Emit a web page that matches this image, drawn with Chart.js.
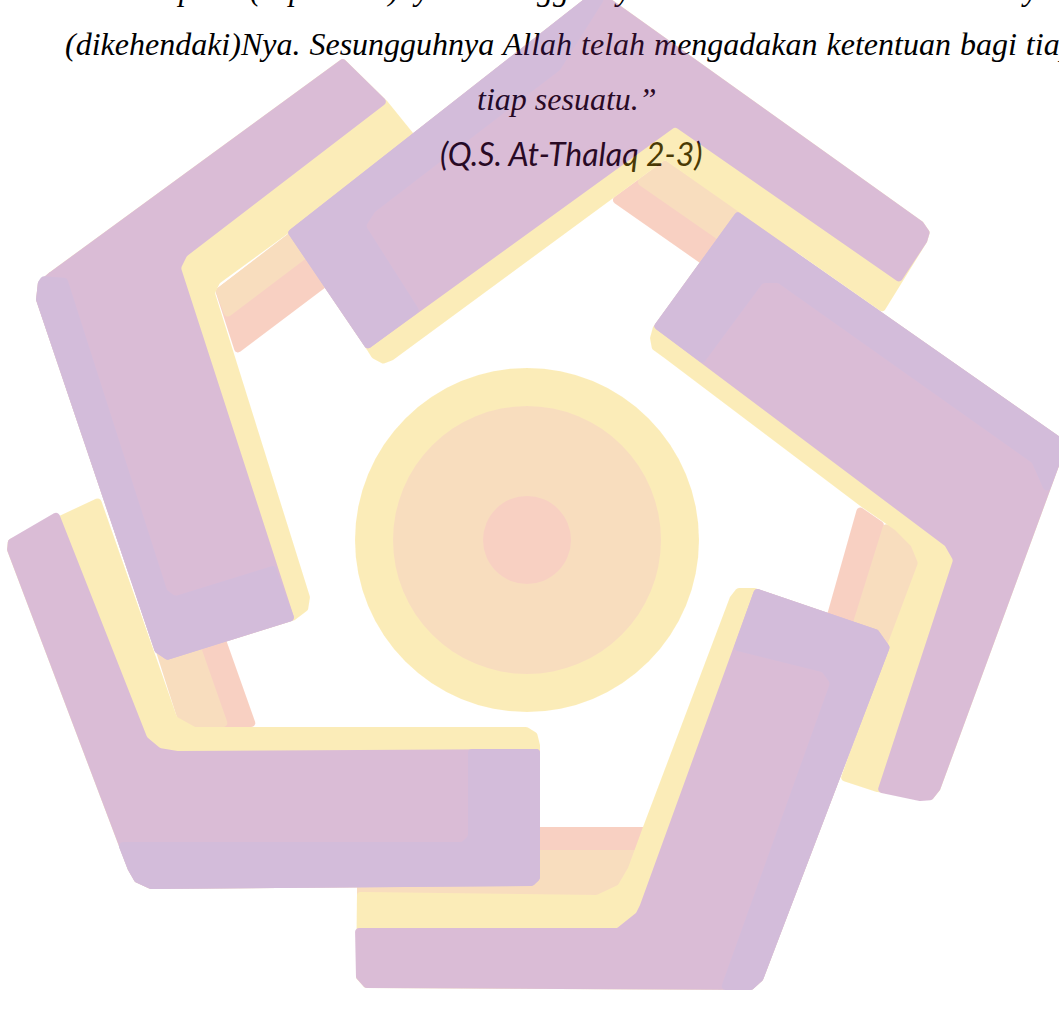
<!DOCTYPE html>
<html>
<head>
<meta charset="utf-8">
<script src="https://cdn.jsdelivr.net/npm/chart.js@4.4.1/dist/chart.umd.min.js"></script>
<style>
html, body { margin: 0; padding: 0; background: #fff; }
#page { position: relative; width: 1059px; height: 1026px; overflow: hidden; background: #fff; }
.ln { position: absolute; white-space: nowrap; line-height: 0; color: #000; }
.serif { font-family: "Liberation Serif", "Times New Roman", serif; font-style: italic; font-size: 32px; }
.just { word-spacing: 1px; }
.sans { font-family: Lato, "Open Sans", sans-serif; font-style: italic; font-size: 32px; }
#logo { position: absolute; left: 0; top: 0; opacity: 0.3; }
</style>
</head>
<body>
<div id="page">
  <div class="ln serif just" style="left:65px; top:-11px;">mencukupkan (keperluan)nya. Sesungguhnya Allah melaksanakan urusan yang</div>
  <div class="ln serif just" style="left:65px; top:44px;">(dikehendaki)Nya. Sesungguhnya Allah telah mengadakan ketentuan bagi tiap-</div>
  <div class="ln serif" style="left:477px; top:99px;">tiap sesuatu.&#8221;</div>
  <div class="ln sans" style="left:440px; top:154px;">(Q.S. At-Thalaq 2-3)</div>
  <div id="logo"><canvas id="logoChart" width="1059" height="1026"></canvas></div>
</div>
<script>
// watermark is drawn in full colour and the whole layer is faded to 30%
var purple = 'rgb(135,35,122)';
var lavender = 'rgb(112,35,135)';
var yellow = 'rgb(245,195,22)';
var orange = 'rgb(235,145,42)';
var salmon = 'rgb(235,102,55)';

// centre disc
var discCenter = [527, 540];
var discRadii = [172, 134, 44];
var discColors = [yellow, orange, salmon];

// arm A (bottom left)
var armAPink = [[120,470],[166,470],[257,727],[180,727]];
var armAOrange = [[98,470],[139,470],[229,727],[180,727]];
var armAYellow = [[8,540],[100,497],[177,717],[195,727],[527,727],[537,733],[540,745],[540,879],[533,886],[150,889],[135,882],[128,870],[7,550]];
var armAPurple = [[8,540],[58,511],[147,737],[160,748],[178,751],[540,749],[540,879],[533,886],[150,889],[135,882],[128,870],[7,550]];
var armALavender = [[117,842],[462,842],[468,836],[468,749],[540,749],[540,879],[533,886],[150,889],[135,882],[128,870]];

// arm B (top left)
var armBPink = [[236,355],[215,290],[420,135],[460,186]];
var armBOrange = [[226,319],[215,290],[420,132],[440,157]];
var armBYellow = [[343,58],[388,102],[413,133],[415,141],[220,283],[215,293],[310,597],[308,610],[295,620],[167,660],[155,652],[36,300],[38,282],[50,272]];
var armBPurple = [[343,58],[388,102],[187,256],[181,268],[295,620],[167,660],[155,652],[36,300],[38,282],[50,272]];
var armBLavender = [[42,276],[67,278],[167,590],[175,596],[275,565],[295,620],[167,660],[155,652],[36,300],[38,282]];

// arm C (top)
var armCPink = [[610,200],[665,160],[800,250],[740,291]];
var armCOrange = [[635,182],[665,160],[800,252],[760,269]];
var armCYellow = [[287,232],[597,-11],[923,222],[930,232],[927,242],[883,313],[665,160],[393,360],[383,364],[372,358],[367,350]];
var armCPurple = [[287,232],[597,-11],[923,222],[930,232],[927,242],[900,283],[675,127],[367,350]];
var armCLavender = [[287,232],[597,-11],[604,0],[560,70],[375,212],[366,226],[420,311],[367,350]];

// arm D (right)
var armDPink = [[858,505],[884,523],[880,700],[803,700]];
var armDOrange = [[884,523],[930,540],[900,700],[832,690]];
var armDYellow = [[737,211],[1060,437],[1063,455],[940,790],[932,800],[877,792],[840,780],[888,643],[918,563],[911,546],[895,530],[863,508],[663,357],[652,349],[650,338],[653,327]];
var armDPurple = [[737,211],[1060,437],[1063,455],[940,790],[932,800],[920,801],[877,792],[953,560],[945,546],[653,327]];
var armDLavender = [[737,211],[1060,437],[1063,455],[1047,497],[1032,463],[778,283],[763,283],[703,364],[653,327]];

// arm E (bottom right)
var armEPink = [[357,827],[660,827],[660,860],[357,860]];
var armEOrange = [[357,850],[650,850],[650,900],[357,900]];
var armEYellow = [[730,597],[737,588],[755,588],[878,630],[890,647],[763,980],[752,990],[365,988],[356,978],[357,892],[597,895],[618,885],[628,868],[643,827]];
var armEPurple = [[755,588],[878,630],[890,647],[763,980],[752,990],[365,988],[356,978],[355,928],[617,928],[636,913],[640,905]];
var armELavender = [[755,588],[878,630],[890,647],[763,980],[752,990],[720,990],[830,683],[822,672],[733,650]];

function polygon(pts, color) {
    return {
        type: 'scatter',
        polygon: true,
        data: pts.map(function(p) { return {x: p[0], y: p[1]}; }),
        backgroundColor: color,
        pointRadius: 0,
        borderWidth: 0
    };
}

// fills each polygon dataset through the positions the scales gave its points
var polygonFill = {
    id: 'polygonFill',
    beforeDatasetDraw: function(chart, args) {
        var ds = chart.data.datasets[args.index];
        if (!ds.polygon) return;
        var pts = args.meta.data;
        var n = pts.length;
        var ctx = chart.ctx;
        var r = ds.cornerRadius || 4;
        ctx.save();
        ctx.beginPath();
        ctx.moveTo((pts[n - 1].x + pts[0].x) / 2, (pts[n - 1].y + pts[0].y) / 2);
        for (var i = 0; i < n; i++) {
            var p = pts[i], q = pts[(i + 1) % n];
            ctx.arcTo(p.x, p.y, q.x, q.y, r);
        }
        ctx.closePath();
        ctx.fillStyle = ds.backgroundColor;
        ctx.fill();
        ctx.restore();
    }
};

var layers = [
    {
        type: 'bubble',
        data: discRadii.map(function(r) { return {x: discCenter[0], y: discCenter[1], r: r}; }),
        backgroundColor: discColors,
        borderWidth: 0
    },
    polygon(armEPink, salmon), polygon(armEOrange, orange), polygon(armEYellow, yellow),
    polygon(armAPink, salmon), polygon(armAOrange, orange), polygon(armAYellow, yellow), polygon(armAPurple, purple), polygon(armALavender, lavender),
    polygon(armBPink, salmon), polygon(armBOrange, orange), polygon(armBYellow, yellow), polygon(armBPurple, purple), polygon(armBLavender, lavender),
    polygon(armCPink, salmon), polygon(armCOrange, orange), polygon(armCYellow, yellow), polygon(armCPurple, purple), polygon(armCLavender, lavender),
    polygon(armDPink, salmon), polygon(armDOrange, orange), polygon(armDYellow, yellow), polygon(armDPurple, purple), polygon(armDLavender, lavender),
    polygon(armEPurple, purple), polygon(armELavender, lavender)
];
// first in the list is painted first
layers.forEach(function(ds, i) { ds.order = -i; });

new Chart(document.getElementById('logoChart'), {
    type: 'scatter',
    data: { datasets: layers },
    options: {
        responsive: false,
        animation: false,
        events: [],
        layout: { padding: 0, autoPadding: false },
        plugins: { legend: { display: false }, tooltip: { enabled: false } },
        scales: {
            x: { type: 'linear', min: 0, max: 1059, display: false },
            y: { type: 'linear', min: 0, max: 1026, reverse: true, display: false }
        }
    },
    plugins: [polygonFill]
});
</script>
</body>
</html>
